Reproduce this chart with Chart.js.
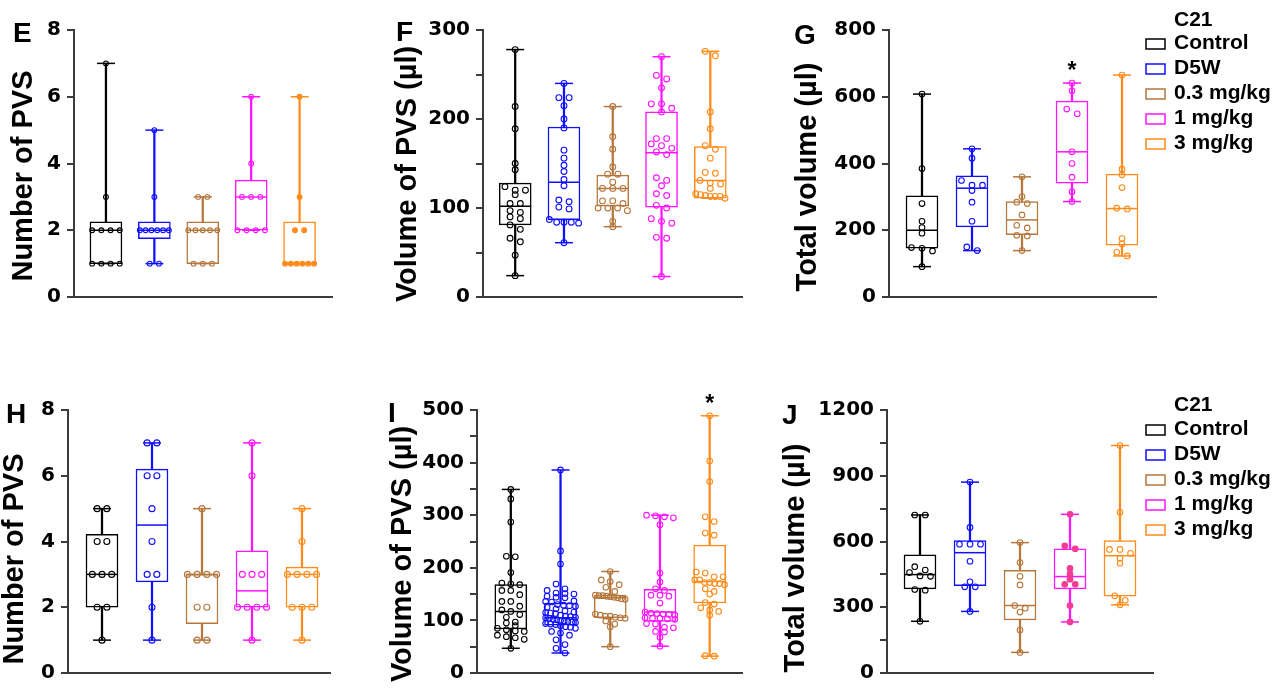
<!DOCTYPE html>
<html>
<head>
<meta charset="utf-8">
<script src="https://cdn.jsdelivr.net/npm/chart.js@4.4.0/dist/chart.umd.min.js"></script>
<style>
html,body{margin:0;padding:0;background:#fff;}
#wrap{position:relative;width:1283px;height:691px;overflow:hidden;background:#fff;}
#wrap canvas{position:absolute;}
</style>
</head>
<body>
<div id="wrap"></div>
<script>
// ---------------- DATA ----------------
const groups = ['Control', 'D5W', '0.3 mg/kg', '1 mg/kg', '3 mg/kg'];
const legendTitle = 'C21';

// Panel E : Number of PVS
const E_values = [
  [7, 3, 2, 2, 2, 2, 1, 1, 1, 1],
  [5, 3, 2, 2, 2, 2, 2, 2, 1, 1],
  [3, 3, 2, 2, 2, 2, 2, 1, 1, 1],
  [6, 4, 3, 3, 3, 2, 2, 2, 2],
  [6, 3, 2, 2, 1, 1, 1, 1, 1, 1]
];
const E_q1 = [1, 1.75, 1, 2, 1];
const E_median = [2, 2, 2, 3, 1];
const E_q3 = [2.25, 2.25, 2.25, 3.5, 2.25];
const E_sig = ['', '', '', '', ''];

// Panel F : Volume of PVS (µl)
const F_values = [
  [278, 214, 189, 150, 143, 124, 120, 120, 115, 105, 105, 97, 95, 90, 88, 81, 76, 66, 62, 47, 24],
  [240, 224, 224, 215, 200, 190, 165, 156, 148, 141, 132, 125, 109, 107, 101, 99, 87, 84, 84, 84, 83, 61],
  [214, 180, 166, 146, 138, 138, 129, 122, 122, 122, 108, 108, 105, 100, 100, 100, 97, 85, 79],
  [270, 249, 245, 235, 217, 217, 212, 208, 178, 178, 172, 170, 167, 163, 160, 134, 131, 125, 116, 114, 103, 100, 88, 85, 83, 67, 66, 23],
  [276, 271, 208, 189, 170, 166, 156, 140, 139, 131, 128, 127, 122, 116, 115, 114, 113, 113, 113, 111]
];
const F_q1 = [81, 87, 102, 101, 111];
const F_median = [102, 129, 122, 162, 131];
const F_q3 = [128, 191, 137, 208, 169];
const F_sig = ['', '', '', '', ''];

// Panel G : Total volume (µl)
const G_values = [
  [608, 385, 280, 227, 208, 191, 148, 146, 138, 91],
  [444, 416, 349, 335, 335, 319, 284, 227, 150, 139],
  [360, 301, 284, 280, 246, 215, 207, 185, 183, 139],
  [641, 618, 563, 549, 435, 400, 359, 315, 286],
  [665, 383, 366, 328, 266, 264, 175, 159, 134, 123]
];
const G_q1 = [146, 210, 187, 341, 155];
const G_median = [200, 326, 231, 435, 265];
const G_q3 = [303, 363, 286, 587, 368];
const G_sig = ['', '', '', '*', ''];

// Panel H : Number of PVS
const H_values = [
  [5, 5, 4, 4, 3, 3, 3, 2, 2, 1],
  [7, 7, 6, 6, 5, 4, 3, 3, 2, 1],
  [5, 3, 3, 3, 3, 2, 2, 1, 1],
  [7, 6, 3, 3, 3, 2, 2, 2, 2, 1],
  [5, 4, 3, 3, 3, 3, 2, 2, 2, 1]
];
const H_q1 = [2, 2.77, 1.5, 2, 2];
const H_median = [3, 4.5, 3, 2.5, 3];
const H_q3 = [4.22, 6.2, 3, 3.72, 3.22];
const H_sig = ['', '', '', '', ''];

// Panel I : Volume of PVS (µl)
const I_values = [
  [349, 331, 287, 222, 221, 191, 171, 169, 168, 157, 157, 149, 136, 136, 127, 120, 117, 111, 106, 97, 95, 90, 85, 82, 80, 79, 72, 69, 67, 64, 47],
  [386, 232, 207, 169, 160, 157, 152, 151, 150, 146, 144, 143, 137, 136, 135, 130, 129, 128, 127, 125, 122, 118, 116, 115, 114, 113, 110, 108, 107, 106, 105, 104, 102, 101, 100, 99, 98, 97, 96, 94, 93, 92, 90, 88, 87, 85, 79, 76, 72, 63, 54, 47, 38],
  [193, 177, 174, 168, 163, 155, 148, 147, 147, 146, 145, 144, 143, 141, 140, 112, 110, 108, 108, 106, 105, 104, 99, 93, 88, 50],
  [300, 299, 297, 295, 282, 190, 173, 160, 157, 148, 148, 146, 133, 116, 114, 113, 112, 111, 110, 105, 104, 104, 103, 102, 94, 93, 87, 86, 79, 78, 68, 51],
  [489, 403, 364, 297, 288, 266, 262, 192, 190, 183, 183, 177, 177, 172, 172, 170, 170, 168, 160, 155, 150, 134, 131, 124, 120, 117, 110, 33, 32]
];
const I_q1 = [84, 91, 105, 98, 133];
const I_median = [117, 105, 143, 116, 174];
const I_q3 = [168, 133, 148, 159, 243];
const I_sig = ['', '', '', '', '*'];

// Panel J : Total volume (µl)
const J_values = [
  [721, 721, 485, 470, 458, 443, 441, 381, 378, 236],
  [871, 664, 588, 588, 588, 510, 416, 393, 393, 281],
  [595, 504, 441, 402, 308, 296, 278, 196, 94],
  [724, 580, 567, 477, 452, 428, 405, 405, 308, 233],
  [1038, 733, 564, 564, 546, 524, 501, 352, 332, 311]
];
const J_q1 = [384, 398, 242, 384, 350];
const J_median = [449, 549, 308, 440, 535];
const J_q3 = [539, 604, 468, 567, 604];
const J_sig = ['', '', '', '', ''];

// y-axis ranges / tick steps
const E_yAxis = [0, 8, 2, 2];       // min, max, tick step, label step
const F_yAxis = [0, 300, 50, 100];
const G_yAxis = [0, 800, 200, 200];
const H_yAxis = [0, 8, 2, 2];
const I_yAxis = [0, 500, 50, 100];
const J_yAxis = [0, 1200, 150, 300];

// ---------------- STYLE / LAYOUT ----------------
const FONT = "'Liberation Sans', Arial, Helvetica, sans-serif";
const TICK_FONT = "'DejaVu Sans', 'Liberation Sans', Arial, sans-serif";
const groupColors = ['#000000', '#1010ff', '#b5773c', '#ff14ff', '#ff8c1a'];
const AXIS_COLOR = '#3c3c3c';

const panels = [
  { id: 'E', values: E_values, q1: E_q1, med: E_median, q3: E_q3, sig: E_sig, yAxis: E_yAxis,
    title: 'Number of PVS', canvas: { left: 0, top: 0, w: 350, h: 320 },
    area: { left: 74, top: 30, right: 341, bottom: 297 }, xMin: -0.66, xMax: 4.68,
    letter: [13, 42], titleC: [24, 176], r: 2.4, spacing: 9.5,
    fill: [null, null, null, null, '#ff8c1a'], legend: null },
  { id: 'F', values: F_values, q1: F_q1, med: F_median, q3: F_q3, sig: F_sig, yAxis: F_yAxis,
    title: 'Volume of PVS (µl)', canvas: { left: 370, top: 0, w: 390, h: 320 },
    area: { left: 483, top: 30, right: 749, bottom: 297 }, xMin: -0.66, xMax: 4.66,
    letter: [396, 41], titleC: [408, 174], r: 2.9, spacing: 10.5,
    fill: [null, null, null, null, null], legend: null },
  { id: 'G', values: G_values, q1: G_q1, med: G_median, q3: G_q3, sig: G_sig, yAxis: G_yAxis,
    title: 'Total volume (µl)', canvas: { left: 780, top: 0, w: 503, h: 320 },
    area: { left: 889, top: 30, right: 1156, bottom: 297 }, xMin: -0.66, xMax: 4.68,
    letter: [794, 44], titleC: [808, 177], r: 2.8, spacing: 10.5,
    fill: [null, null, null, null, null],
    legend: { boxX: 1146, textX: 1174, titleY: 20, y0: 43, dy: 25 } },
  { id: 'H', values: H_values, q1: H_q1, med: H_median, q3: H_q3, sig: H_sig, yAxis: H_yAxis,
    title: 'Number of PVS', canvas: { left: 0, top: 385, w: 350, h: 306 },
    area: { left: 68, top: 410, right: 330, bottom: 677 }, xMin: -0.68, xMax: 4.56,
    letter: [6, 423], titleC: [15, 559], r: 3, spacing: 9.7,
    fill: [null, null, null, null, null], legend: null },
  { id: 'I', values: I_values, q1: I_q1, med: I_median, q3: I_q3, sig: I_sig, yAxis: I_yAxis,
    title: 'Volume of PVS (µl)', canvas: { left: 370, top: 385, w: 390, h: 306 },
    area: { left: 477, top: 410, right: 744, bottom: 677 }, xMin: -0.68, xMax: 4.66,
    letter: [388, 422], titleC: [403, 554], r: 2.8, spacing: 9,
    fill: [null, null, null, null, null], legend: null },
  { id: 'J', values: J_values, q1: J_q1, med: J_median, q3: J_q3, sig: J_sig, yAxis: J_yAxis,
    title: 'Total volume (µl)', canvas: { left: 775, top: 385, w: 508, h: 306 },
    area: { left: 887, top: 410, right: 1153, bottom: 677 }, xMin: -0.66, xMax: 4.66,
    letter: [782, 424], titleC: [796, 558], r: 2.8, spacing: 10.5,
    fill: [null, null, null, '#f23c95', null],
    legend: { boxX: 1146, textX: 1174, titleY: 405, y0: 429, dy: 25 } }
];

// Horizontal spread of points sharing (nearly) the same value, computed from the values
function swarmOffsets(vals, pxPerUnit, spacing, maxSpan, binPx) {
  const idx = vals.map((v, i) => i).sort((a, b) => vals[b] - vals[a]);
  const bins = [];
  let cur = null;
  for (const i of idx) {
    const py = vals[i] * pxPerUnit;
    if (cur && Math.abs(cur.py0 - py) < binPx) cur.items.push(i);
    else { cur = { py0: py, items: [i] }; bins.push(cur); }
  }
  const offs = new Array(vals.length).fill(0);
  for (const b of bins) {
    const n = b.items.length;
    let s = spacing;
    if (n > 1 && (n - 1) * s > maxSpan) s = maxSpan / (n - 1);
    b.items.forEach((i, k) => { offs[i] = (k - (n - 1) / 2) * s; });
  }
  return offs;
}

function textPlugin(p) {
  return {
    id: 'txt' + p.id,
    afterDraw(chart) {
      const ctx = chart.ctx;
      const ox = p.canvas.left, oy = p.canvas.top;
      ctx.save();
      ctx.fillStyle = '#000';
      // panel letter
      ctx.font = 'bold 28px ' + FONT;
      ctx.textAlign = 'left';
      ctx.textBaseline = 'alphabetic';
      ctx.fillText(p.id, p.letter[0] - ox, p.letter[1] - oy);
      // y-axis title
      ctx.save();
      ctx.translate(p.titleC[0] - ox, p.titleC[1] - oy);
      ctx.rotate(-Math.PI / 2);
      ctx.textAlign = 'center';
      ctx.textBaseline = 'middle';
      ctx.font = 'bold 29px ' + FONT;
      ctx.fillText(p.title, 0, 0);
      ctx.restore();
      // significance marks
      const xs = chart.scales.x, ys = chart.scales.y;
      ctx.font = 'bold 23px ' + FONT;
      ctx.textAlign = 'center';
      ctx.textBaseline = 'alphabetic';
      p.sig.forEach((s, i) => {
        if (!s) return;
        const mx = Math.max(...p.values[i]);
        ctx.fillText(s, xs.getPixelForValue(i), ys.getPixelForValue(mx) - 5);
      });
      // legend
      if (p.legend) {
        const L = p.legend;
        ctx.font = 'bold 21px ' + FONT;
        ctx.textAlign = 'left';
        ctx.textBaseline = 'middle';
        ctx.fillText(legendTitle, L.textX - ox, L.titleY - oy);
        groups.forEach((g, i) => {
          const cy = L.y0 + i * L.dy - oy;
          ctx.lineWidth = 1.5;
          ctx.strokeStyle = groupColors[i];
          ctx.fillStyle = '#fff';
          ctx.fillRect(L.boxX - ox, cy - 4, 19, 10);
          ctx.strokeRect(L.boxX - ox, cy - 4, 19, 10);
          ctx.fillStyle = '#000';
          ctx.fillText(g, L.textX - ox, cy);
        });
      }
      ctx.restore();
    }
  };
}

Chart.defaults.font.family = FONT;
const wrap = document.getElementById('wrap');

panels.forEach(p => {
  const cv = document.createElement('canvas');
  cv.width = p.canvas.w; cv.height = p.canvas.h;
  cv.style.left = p.canvas.left + 'px';
  cv.style.top = p.canvas.top + 'px';
  cv.style.width = p.canvas.w + 'px';
  cv.style.height = p.canvas.h + 'px';
  wrap.appendChild(cv);

  const [yMin, yMax, yStep, yLabelStep] = p.yAxis;
  const pxY = (p.area.bottom - p.area.top) / (yMax - yMin);
  const pxX = (p.area.right - p.area.left) / (p.xMax - p.xMin);
  const mins = p.values.map(a => Math.min(...a));
  const maxs = p.values.map(a => Math.max(...a));

  const pts = [], ptBorder = [], ptFill = [];
  p.values.forEach((arr, i) => {
    const offs = swarmOffsets(arr, pxY, p.spacing, 30, 5);
    arr.forEach((v, k) => {
      pts.push({ x: i + offs[k] / pxX, y: v });
      ptBorder.push(p.fill[i] || groupColors[i]);
      ptFill.push(p.fill[i] || 'rgba(255,255,255,0)');
    });
  });

  const caps = [], capColors = [];
  groups.forEach((g, i) => {
    caps.push({ x: i, y: mins[i] }); capColors.push(groupColors[i]);
    caps.push({ x: i, y: maxs[i] }); capColors.push(groupColors[i]);
  });

  const datasets = [
    { type: 'scatter', label: 'points', data: pts, pointRadius: p.r, pointBorderWidth: 1.1,
      pointBorderColor: ptBorder, pointBackgroundColor: ptFill, clip: false },
    { type: 'scatter', label: 'median', data: groups.map((g, i) => ({ x: i, y: p.med[i] })),
      pointStyle: 'line', pointRadius: 16, pointBorderWidth: 1.5, pointBorderColor: groupColors, clip: false },
    { type: 'scatter', label: 'caps', data: caps, pointStyle: 'line', pointRadius: 9,
      pointBorderWidth: 1.5, pointBorderColor: capColors, clip: false },
    { type: 'bar', label: 'box', data: groups.map((g, i) => ({ x: i, y: [p.q1[i], p.q3[i]] })),
      grouped: false, categoryPercentage: 1, barPercentage: 1, maxBarThickness: 32,
      backgroundColor: '#ffffff', borderColor: groupColors, borderWidth: 1.5, borderSkipped: false },
    { type: 'bar', label: 'whisker', data: groups.map((g, i) => ({ x: i, y: [mins[i], maxs[i]] })),
      grouped: false, categoryPercentage: 1, barPercentage: 1, maxBarThickness: 1.6,
      backgroundColor: groupColors, borderWidth: 0 }
  ];

  new Chart(cv, {
    type: 'bar',
    data: { datasets },
    options: {
      responsive: false,
      animation: false,
      events: [],
      layout: {
        padding: {
          left: 0,
          top: p.area.top - p.canvas.top,
          right: p.canvas.left + p.canvas.w - p.area.right,
          bottom: p.canvas.top + p.canvas.h - p.area.bottom
        }
      },
      plugins: { legend: { display: false }, tooltip: { enabled: false }, title: { display: false } },
      scales: {
        x: {
          type: 'linear', min: p.xMin, max: p.xMax, offset: false,
          ticks: { display: false }, grid: { display: false },
          border: { display: true, color: AXIS_COLOR, width: 2 },
          afterFit: s => { s.height = 0; }
        },
        y: {
          type: 'linear', min: yMin, max: yMax,
          ticks: {
            stepSize: yStep, autoSkip: false, maxTicksLimit: 100, padding: 6, color: '#000',
            font: { family: TICK_FONT, size: 20, weight: 'bold', lineHeight: 1.2 },
            callback: v => (v % yLabelStep === 0 ? String(v) : '')
          },
          grid: { display: true, drawOnChartArea: false, drawTicks: true, tickLength: 7, color: AXIS_COLOR, lineWidth: 2 },
          border: { display: true, color: AXIS_COLOR, width: 2 },
          afterFit: s => { s.width = p.area.left - p.canvas.left; }
        }
      }
    },
    plugins: [textPlugin(p)]
  });
});
</script>
</body>
</html>
